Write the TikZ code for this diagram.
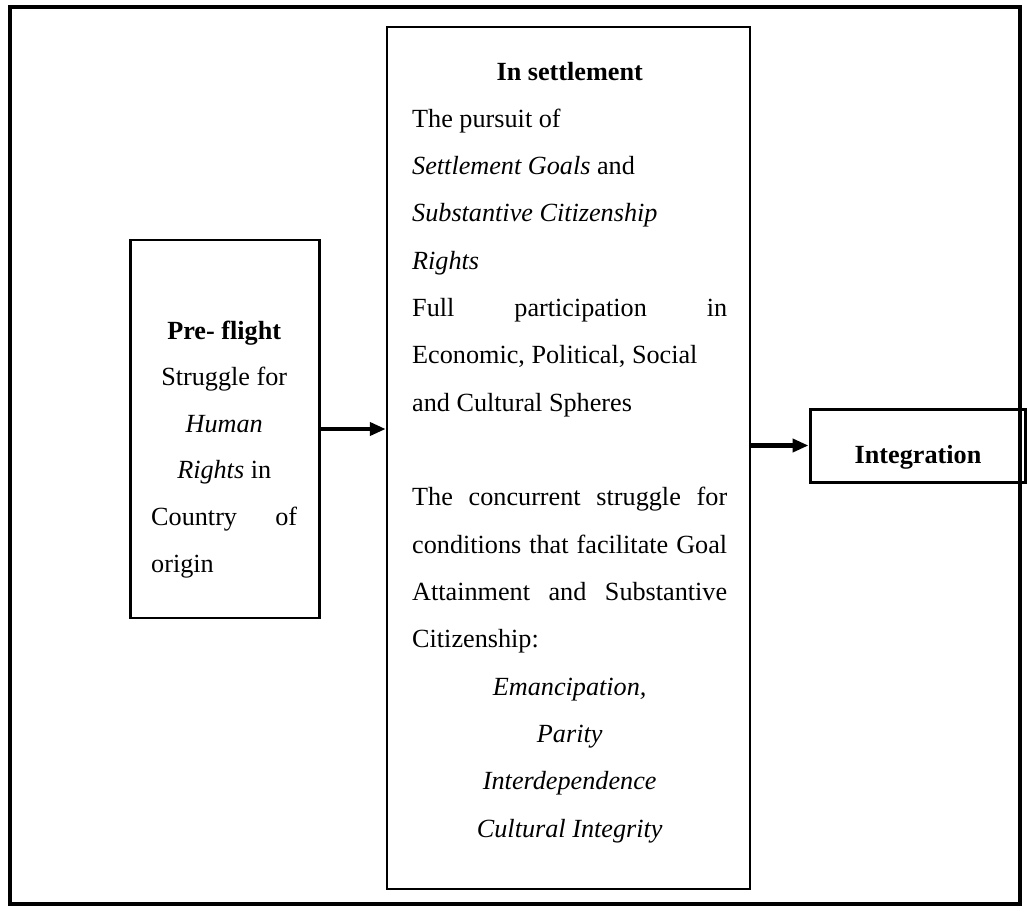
\documentclass[tikz,border=0pt]{standalone}
\usepackage{fontspec}
\setmainfont{Liberation Serif}
\usetikzlibrary{arrows.meta}
\begin{document}
\begin{tikzpicture}[x=1bp,y=-1bp,
  frame/.style={draw, line width=4.5bp, inner sep=0pt},
  box/.style={draw, line width=2.5bp, inner sep=0pt},
  conn/.style={line width=4.5bp, -{Triangle[length=16bp,width=13bp]}},
  txt/.style={inner sep=0pt, anchor=base west},
]
\useasboundingbox (0,0) rectangle (1029,912);
\node[frame, minimum width=1010bp, minimum height=897bp] (frame) at (515,455.5) {};
\node[box, minimum width=189bp, minimum height=378bp] (left) at (225,429) {};
\node[box, minimum width=363bp, minimum height=862bp] (mid) at (568.5,458) {};
\node[box, line width=3bp, minimum width=215bp, minimum height=73bp] (integ) at (917.5,445.5) {};

\node[txt] (lefttext) at (151,339) {\begin{minipage}[t]{146bp}\fontsize{26.3}{46.8}\selectfont
\makebox[\linewidth]{\bfseries Pre- flight}\\
\makebox[\linewidth]{Struggle for}\\
\makebox[\linewidth]{\itshape Human}\\
\makebox[\linewidth]{\textit{Rights} in}\\
Country \hfill of\\
origin
\end{minipage}};

\node[txt] (midtext) at (412,80) {\begin{minipage}[t]{315bp}\fontsize{26.3}{47.5}\selectfont
\makebox[\linewidth]{\bfseries In settlement}\\
The pursuit of\\
\textit{Settlement Goals} and\\
\textit{Substantive Citizenship}\\
\textit{Rights}\\
Full \hfill participation \hfill in\\
Economic, Political, Social\\
and Cultural Spheres\\
\mbox{}\\
The \hfill concurrent \hfill struggle \hfill for\\
conditions \hfill that \hfill facilitate \hfill Goal\\
Attainment \hfill and \hfill Substantive\\
Citizenship:\\
\makebox[\linewidth]{\itshape Emancipation,}\\
\makebox[\linewidth]{\itshape Parity}\\
\makebox[\linewidth]{\itshape Interdependence}\\
\makebox[\linewidth]{\itshape Cultural Integrity}
\end{minipage}};

\node[inner sep=0pt, anchor=base, font=\fontsize{26.3}{30}\selectfont\bfseries] (integtext) at (918,463) {Integration};

\draw[conn] (left.east) -- (left.east -| mid.west);
\draw[conn] (integ.west -| mid.east) -- (integ.west);
\end{tikzpicture}
\end{document}
